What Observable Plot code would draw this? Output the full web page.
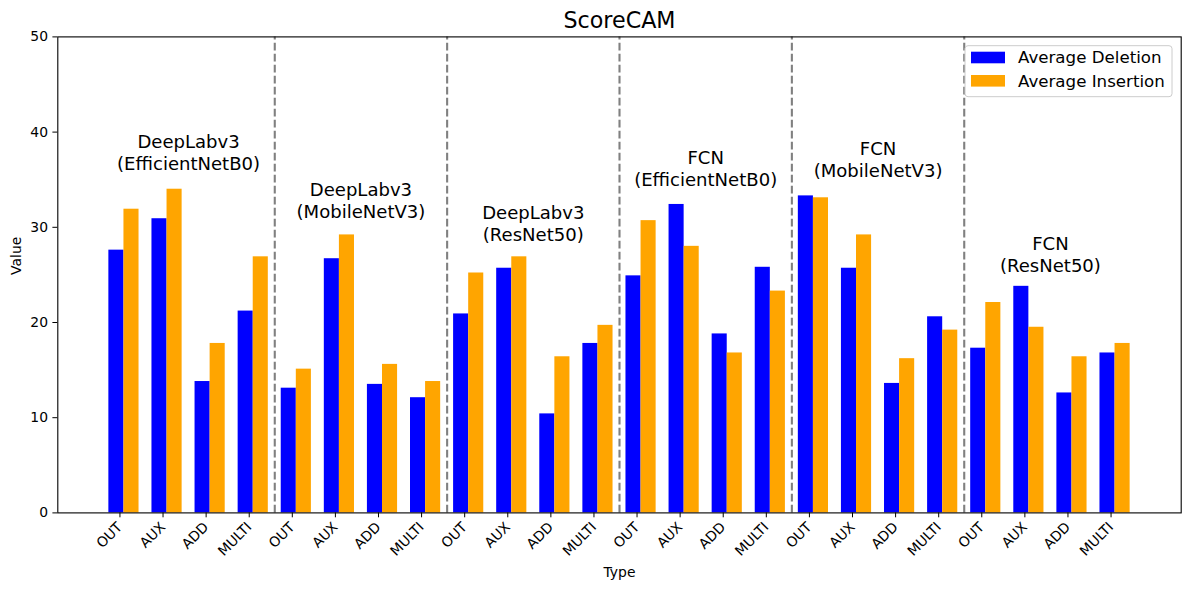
<!DOCTYPE html>
<html>
<head>
<meta charset="utf-8">
<script src="https://cdn.jsdelivr.net/npm/d3@7"></script>
<script src="https://cdn.jsdelivr.net/npm/@observablehq/plot@0.6"></script>
<style>
  html, body { margin: 0; padding: 0; background: #fff; }
  #chart { width: 1189px; height: 590px; }
</style>
</head>
<body>
<div id="chart"></div>
<script>
const title = "ScoreCAM";
const types = ["OUT", "AUX", "ADD", "MULTI"];
const models = [
  "DeepLabv3\n(EfficientNetB0)",
  "DeepLabv3\n(MobileNetV3)",
  "DeepLabv3\n(ResNet50)",
  "FCN\n(EfficientNetB0)",
  "FCN\n(MobileNetV3)",
  "FCN\n(ResNet50)"
];
const seriesNames = ["Average Deletion", "Average Insertion"];
const deletion = [27.6, 30.9, 13.8, 21.2, 13.1, 26.7, 13.5, 12.1, 20.9, 25.7, 10.4, 17.8,
                  24.9, 32.4, 18.8, 25.8, 33.3, 25.7, 13.6, 20.6, 17.3, 23.8, 12.6, 16.8];
const insertion = [31.9, 34.0, 17.8, 26.9, 15.1, 29.2, 15.6, 13.8, 25.2, 26.9, 16.4, 19.7,
                   30.7, 28.0, 16.8, 23.3, 33.1, 29.2, 16.2, 19.2, 22.1, 19.5, 16.4, 17.8];
const yTicks = [0, 10, 20, 30, 40, 50];

const colors = ["#0000ff", "#ffa500"];
const W = 0.35;

const rows = deletion.map((d, i) => ({i, type: types[i % types.length], del: d, ins: insertion[i]}));
const groups = models.map((m, g) => {
  const idx = d3.range(g * 4, g * 4 + 4);
  const mx = d3.max(idx, i => Math.max(deletion[i], insertion[i]));
  return {label: m, x: g * 4 + 1.5, y: mx * 1.055 + 0.2};
});
const bounds = d3.range(1, models.length).map(g => g * 4 - 0.5);

const font = "DejaVu Sans, sans-serif";

const chart = Plot.plot({
  width: 1189,
  height: 590,
  marginTop: 36.4,
  marginBottom: 77.6,
  marginLeft: 57.3,
  marginRight: 8.3,
  style: {fontFamily: font, fontSize: "13.9px", background: "#fff", color: "#000"},
  x: {domain: [-1.535, rows.length - 1 + 1.535], label: null},
  y: {domain: [0, 50], label: null},
  marks: [
    Plot.rectY(rows, {x1: d => d.i - W, x2: d => d.i, y: "del", fill: colors[0]}),
    Plot.rectY(rows, {x1: d => d.i, x2: d => d.i + W, y: "ins", fill: colors[1]}),
    Plot.ruleX(bounds, {y1: 0, y2: 50, stroke: "#808080", strokeWidth: 2.1, strokeDasharray: "7.7,3.3"}),
    Plot.text(groups, {x: "x", y: "y", text: "label", lineAnchor: "bottom", lineHeight: 1.2,
      fontSize: 18.06, fill: "#000"}),
    Plot.frame({stroke: "#000", strokeWidth: 1.1}),
    Plot.axisY({ticks: yTicks, tickSize: 4.9, tickPadding: 4.9, fontSize: 13.9, label: null}),
    Plot.axisX({ticks: d3.range(rows.length), tickFormat: i => types[i % types.length],
      tickRotate: -45, tickSize: 4.9, tickPadding: 7, dx: -4, fontSize: 13.9, label: null}),
    Plot.text([title], {frameAnchor: "top", lineAnchor: "middle", dy: -16.4, fontSize: 22.2, fill: "#000"}),
    Plot.text(["Type"], {frameAnchor: "bottom", lineAnchor: "middle", dy: 59.6, fontSize: 13.9, fill: "#000"}),
    Plot.text(["Value"], {frameAnchor: "left", lineAnchor: "middle", dx: -41, rotate: -90, fontSize: 13.9, fill: "#000"})
  ]
});

// legend
const svg = d3.select(chart);
const lg = svg.append("g").attr("font-family", font).attr("font-size", 16.67).attr("text-anchor", "start");
lg.append("rect").attr("x", 965).attr("y", 45.7).attr("width", 207).attr("height", 51)
  .attr("rx", 3).attr("fill", "#fff").attr("fill-opacity", 0.8).attr("stroke", "#cccccc").attr("stroke-width", 1);
seriesNames.forEach((name, k) => {
  const cy = 57.5 + k * 23.3;
  lg.append("rect").attr("x", 971).attr("y", cy - 5.8).attr("width", 34).attr("height", 11.6).attr("fill", colors[k]);
  lg.append("text").attr("x", 1018).attr("y", cy).attr("dy", "0.35em").attr("text-anchor", "start").attr("fill", "#000").text(name);
});

document.getElementById("chart").appendChild(chart);
</script>
</body>
</html>
